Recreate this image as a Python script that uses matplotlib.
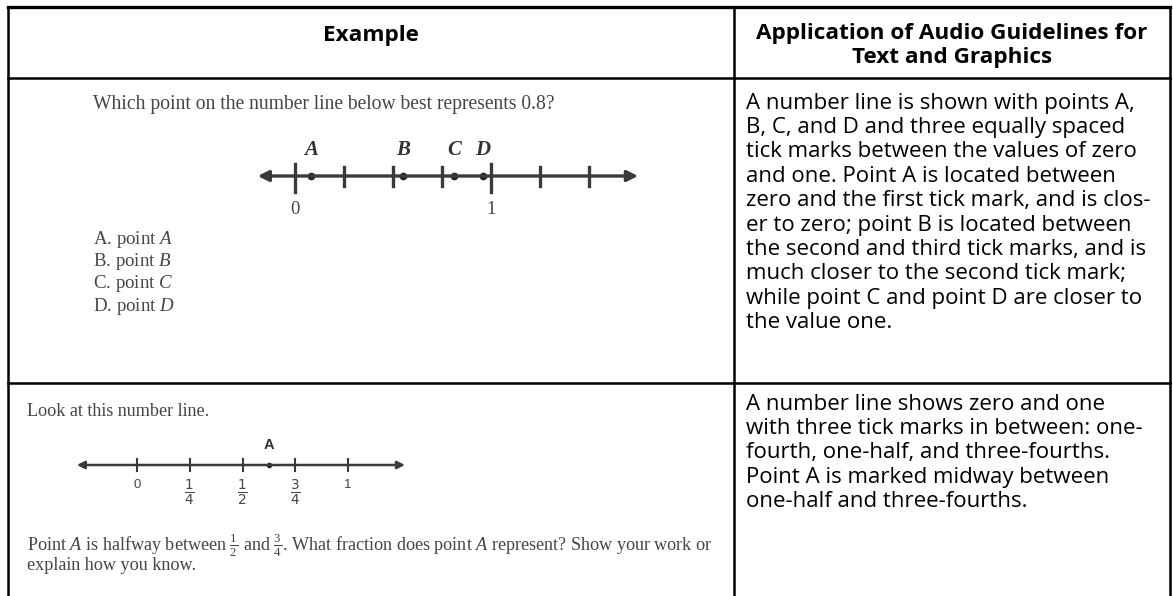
import matplotlib
matplotlib.use("Agg")
import matplotlib.pyplot as plt

W, H = 1173, 596

# header cells
header_left = "Example"
header_right = ["Application of Audio Guidelines for", "Text and Graphics"]

# row 1 example: question, number line, answer choices
q1_text = "Which point on the number line below best represents 0.8?"
q1_ticks = [0, 0.25, 0.5, 0.75, 1, 1.25, 1.5]
q1_tick_labels = ["0", "", "", "", "1", "", ""]
q1_points = ["A", "B", "C", "D"]
q1_values = [0.08, 0.55, 0.81, 0.96]
q1_range = [-0.19, 1.75]
q1_choices = ["A. point $A$", "B. point $B$", "C. point $C$", "D. point $D$"]

# row 2 example
q2_intro = "Look at this number line."
q2_ticks = [0, 0.25, 0.5, 0.75, 1]
q2_tick_labels = ["0", r"$\frac{1}{4}$", r"$\frac{1}{2}$", r"$\frac{3}{4}$", "1"]
q2_point = "A"
q2_value = 0.625
q2_range = [-0.285, 1.27]
q2_text = [
    r"Point $A$ is halfway between $\frac{1}{2}$ and $\frac{3}{4}$. What fraction does point $A$ represent? Show your work or",
    "explain how you know.",
]

# right column descriptions
desc1 = [
    "A number line is shown with points A,",
    "B, C, and D and three equally spaced",
    "tick marks between the values of zero",
    "and one. Point A is located between",
    "zero and the first tick mark, and is clos-",
    "er to zero; point B is located between",
    "the second and third tick marks, and is",
    "much closer to the second tick mark;",
    "while point C and point D are closer to",
    "the value one.",
]
desc2 = [
    "A number line shows zero and one",
    "with three tick marks in between: one-",
    "fourth, one-half, and three-fourths.",
    "Point A is marked midway between",
    "one-half and three-fourths.",
]

plt.rcParams["mathtext.fontset"] = "custom"
plt.rcParams["mathtext.rm"] = "Liberation Serif"
plt.rcParams["mathtext.it"] = "Liberation Serif:italic"
plt.rcParams["mathtext.bf"] = "Liberation Serif:bold"

SANS = "Open Sans"
SERIF = "Liberation Serif"
INK = "#454545"
LINE = "#3a3a3a"
FS = 16.0

fig = plt.figure(figsize=(W / 100, H / 100), dpi=100)
fig.patch.set_facecolor("white")

# page axes in pixel coordinates for the table frame and text
ax = fig.add_axes([0, 0, 1, 1])
ax.set_xlim(0, W)
ax.set_ylim(H, 0)
ax.axis("off")

# table frame
x_left, x_mid, x_right = 8, 734, 1170
y_top, y_head, y_row1 = 7, 78, 383
ax.plot([x_left, x_right], [y_top, y_top], color="black", lw=2.4)
ax.plot([x_left, x_right], [y_head, y_head], color="black", lw=1.8)
ax.plot([x_left, x_right], [y_row1, y_row1], color="black", lw=1.8)
ax.plot([x_left, x_left], [y_top, H], color="black", lw=1.8)
ax.plot([x_mid, x_mid], [y_top, H], color="black", lw=1.8)
ax.plot([x_right, x_right], [y_top, H], color="black", lw=1.8)

# headers
ax.text((x_left + x_mid) / 2, 35, header_left, ha="center", va="center",
        family=SANS, weight="bold", size=16.2)
for i, line in enumerate(header_right):
    ax.text((x_mid + x_right) / 2, 33 + i * 24.4, line, ha="center", va="center",
            family=SANS, weight="bold", size=16.2)

# right column text
for i, line in enumerate(desc1):
    ax.text(746, 103 + i * 24.4, line, ha="left", va="center", family=SANS, size=FS)
for i, line in enumerate(desc2):
    ax.text(746, 404 + i * 24.4, line, ha="left", va="center", family=SANS, size=FS)


def number_line_axes(px_zero, px_one, y_px):
    # overlay axes where x is the number line value and y is pixels above the line
    a = fig.add_axes([0, 0, 1, 1])
    a.patch.set_alpha(0)
    a.axis("off")
    s = px_one - px_zero
    a.set_xlim(-px_zero / s, (W - px_zero) / s)
    a.set_ylim(-(H - y_px), y_px)
    return a


# row 1 example
ax.text(93, 105, q1_text, ha="left", va="center", family=SERIF, size=14.1, color=INK)
a1 = number_line_axes(295, 491, 176)
a1.annotate("", xy=(q1_range[1], 0), xytext=(q1_range[0], 0),
            arrowprops=dict(arrowstyle="<|-|>", color=LINE, lw=2.4,
                            mutation_scale=16, shrinkA=0, shrinkB=0))
for t, lab in zip(q1_ticks, q1_tick_labels):
    if lab:
        a1.plot([t, t], [-16, 12], color=LINE, lw=2.4)
        a1.text(t, -34, lab, ha="center", va="center", family=SERIF, size=13.5, color=INK)
    else:
        a1.plot([t, t], [-10, 9], color=LINE, lw=2.4)
a1.plot(q1_values, [0] * len(q1_values), "o", ms=4.5, color="#222222")
for v, lab in zip(q1_values, q1_points):
    a1.text(v, 26, lab, ha="center", va="center", family=SERIF, style="italic",
            weight="bold", size=15, color="#333333")
for i, c in enumerate(q1_choices):
    ax.text(93, 239 + i * 22.5, c, ha="left", va="center", family=SERIF, size=13.6, color=INK)

# row 2 example
ax.text(27, 411, q2_intro, ha="left", va="center", family=SERIF, size=13.1, color=INK)
a2 = number_line_axes(137, 348, 465)
a2.annotate("", xy=(q2_range[1], 0), xytext=(q2_range[0], 0),
            arrowprops=dict(arrowstyle="<|-|>", color=LINE, lw=1.8,
                            mutation_scale=11, shrinkA=0, shrinkB=0))
for t, lab in zip(q2_ticks, q2_tick_labels):
    a2.plot([t, t], [-6, 6], color=LINE, lw=1.5)
    if lab.startswith("$"):
        a2.text(t, -28, lab, ha="center", va="center", size=14, color=INK,
                math_fontfamily="dejavusans")
    else:
        a2.text(t, -20, lab, ha="center", va="center", family="Liberation Sans",
                size=9.5, color=INK)
a2.plot([q2_value], [0], "o", ms=3, color="#222222")
a2.text(q2_value, 20, q2_point, ha="center", va="center", family="Liberation Sans",
        weight="bold", size=10.5, color="#333333")
for i, line in enumerate(q2_text):
    ax.text(27, 545 + i * 21, line, ha="left", va="center", family=SERIF,
            size=13.1, color=INK)

plt.savefig("out.png", dpi=100, facecolor="white")
plt.close()
